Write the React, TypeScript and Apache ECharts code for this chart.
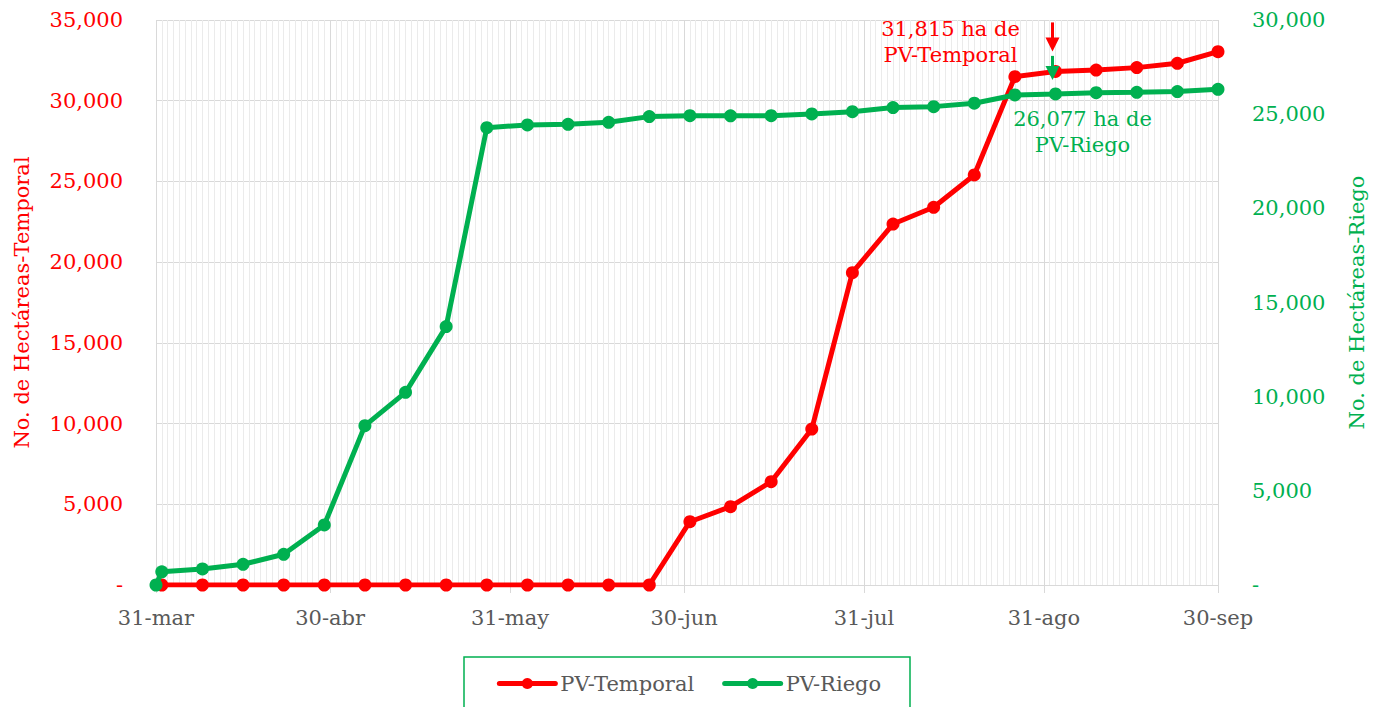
import React, { useEffect, useRef } from "react";
import * as echarts from "echarts";

// Day offsets from 31-mar
const monthEndDays = [0, 30, 61, 91, 122, 153, 183];
const monthEndLabels = ["31-mar", "30-abr", "31-may", "30-jun", "31-jul", "31-ago", "30-sep"];

const temporalDays = [1, 8, 15, 22, 29, 36, 43, 50, 57, 64, 71, 78, 85, 92, 99, 106, 113, 120, 127, 134, 141, 148, 155, 162, 169, 176, 183];
const temporalValues = [0, 0, 0, 0, 0, 0, 0, 0, 0, 0, 0, 0, 0, 3920, 4850, 6400, 9660, 19350, 22360, 23400, 25400, 31490, 31815, 31900, 32050, 32320, 33040];

const riegoDays = [0, 1, 8, 15, 22, 29, 36, 43, 50, 57, 64, 71, 78, 85, 92, 99, 106, 113, 120, 127, 134, 141, 148, 155, 162, 169, 176, 183];
const riegoValues = [0, 700, 850, 1100, 1630, 3190, 8460, 10230, 13720, 24280, 24430, 24460, 24570, 24870, 24920, 24910, 24920, 25010, 25130, 25350, 25400, 25580, 26020, 26077, 26140, 26160, 26200, 26320];

const annotIndexTemporal = 22;
const annotIndexRiego = 23;

const RED = "#ff0000";
const GREEN = "#00b050";
const FONT = "DejaVu Serif";

const fmt = (v: number) => (v === 0 ? "-" : v.toLocaleString("en-US"));

export default function App() {
  const ref = useRef<HTMLDivElement>(null);
  useEffect(() => {
    document.body.style.margin = "0";
    const chart = echarts.init(ref.current!, null, { renderer: "svg" });
    const labelMap: Record<number, string> = {};
    monthEndDays.forEach((d, i) => (labelMap[d] = monthEndLabels[i]));

    chart.setOption({
      animation: false,
      textStyle: { fontFamily: FONT },
      grid: { left: 156, right: 160, top: 20, bottom: 122, containLabel: false },
      legend: {
        left: "center",
        top: 668,
        itemWidth: 56,
        itemHeight: 14,
        itemGap: 28,
        lineStyle: { width: 5, cap: "round" },
        textStyle: { fontFamily: FONT, fontSize: 21, color: "#595959" },
        data: ["PV-Temporal", "PV-Riego"],
      },
      xAxis: [
        {
          type: "value",
          min: 0,
          max: 183,
          interval: 1,
          axisLine: { show: true, lineStyle: { color: "#d9d9d9", width: 1 } },
          axisTick: { show: false },
          axisLabel: { show: false },
          splitLine: { show: true, lineStyle: { color: "#ebebeb", width: 1 } },
        },
        {
          type: "value",
          min: 0,
          max: 183,
          position: "bottom",
          axisLine: { show: false },
          axisTick: {
            show: true,
            customValues: monthEndDays,
            length: 8,
            lineStyle: { color: "#d9d9d9", width: 1 },
          },
          axisLabel: {
            show: true,
            customValues: monthEndDays,
            formatter: (v: number) => labelMap[v] ?? "",
            color: "#595959",
            fontFamily: FONT,
            fontSize: 21,
            margin: 22,
          },
          splitLine: { show: true, lineStyle: { color: "#d9d9d9", width: 1 } },
        },
      ],
      yAxis: [
        {
          type: "value",
          min: 0,
          max: 35000,
          interval: 5000,
          position: "left",
          name: "No. de Hectáreas-Temporal",
          nameLocation: "middle",
          nameRotate: 90,
          nameGap: 124,
          nameTextStyle: { color: RED, fontFamily: FONT, fontSize: 21 },
          axisLine: { show: false },
          axisTick: { show: false },
          axisLabel: { color: RED, fontFamily: FONT, fontSize: 21, margin: 33, formatter: fmt },
          splitLine: { show: true, lineStyle: { color: "#d9d9d9", width: 1 } },
        },
        {
          type: "value",
          min: 0,
          max: 30000,
          interval: 5000,
          position: "right",
          name: "No. de Hectáreas-Riego",
          nameLocation: "middle",
          nameRotate: 90,
          nameGap: 128,
          nameTextStyle: { color: GREEN, fontFamily: FONT, fontSize: 21 },
          axisLine: { show: false },
          axisTick: { show: false },
          axisLabel: { color: GREEN, fontFamily: FONT, fontSize: 21, margin: 34, formatter: fmt },
          splitLine: { show: false },
        },
      ],
      series: [
        {
          name: "PV-Temporal",
          type: "line",
          xAxisIndex: 0,
          yAxisIndex: 0,
          data: temporalDays.map((d, i) => [d, temporalValues[i]]),
          symbol: "circle",
          symbolSize: 13,
          lineStyle: { color: RED, width: 5 },
          itemStyle: { color: RED },
          z: 3,
        },
        {
          name: "PV-Riego",
          type: "line",
          xAxisIndex: 0,
          yAxisIndex: 1,
          data: riegoDays.map((d, i) => [d, riegoValues[i]]),
          symbol: "circle",
          symbolSize: 13,
          lineStyle: { color: GREEN, width: 5 },
          itemStyle: { color: GREEN },
          z: 4,
        },
      ],
    });

    const pT = chart.convertToPixel({ xAxisIndex: 0, yAxisIndex: 0 }, [
      temporalDays[annotIndexTemporal],
      temporalValues[annotIndexTemporal],
    ]) as number[];
    const pG = chart.convertToPixel({ xAxisIndex: 0, yAxisIndex: 1 }, [
      riegoDays[annotIndexRiego],
      riegoValues[annotIndexRiego],
    ]) as number[];
    const ax = pT[0] - 3;

    chart.setOption({
      graphic: [
        {
          type: "rect",
          shape: { x: 464, y: 657, width: 446, height: 70 },
          style: { fill: "none", stroke: GREEN, lineWidth: 1.5 },
          silent: true,
        },
        {
          type: "line",
          shape: { x1: ax, y1: pT[1] - 49, x2: ax, y2: pT[1] - 32 },
          style: { stroke: RED, lineWidth: 3 },
          z: 10,
        },
        {
          type: "polygon",
          shape: { points: [[ax - 7, pT[1] - 34], [ax + 7, pT[1] - 34], [ax, pT[1] - 20]] },
          style: { fill: RED },
          z: 10,
        },
        {
          type: "line",
          shape: { x1: ax, y1: pG[1] - 38, x2: ax, y2: pG[1] - 26 },
          style: { stroke: GREEN, lineWidth: 3 },
          z: 10,
        },
        {
          type: "polygon",
          shape: { points: [[ax - 7, pG[1] - 28], [ax + 7, pG[1] - 28], [ax, pG[1] - 14]] },
          style: { fill: GREEN },
          z: 10,
        },
        {
          type: "text",
          x: pT[0] - 105,
          y: pT[1] - 42,
          style: {
            text: `${temporalValues[annotIndexTemporal].toLocaleString("en-US")} ha de`,
            fill: RED,
            font: `21px "${FONT}"`,
            textAlign: "center",
            textVerticalAlign: "middle",
          },
          z: 10,
        },
        {
          type: "text",
          x: pT[0] - 105,
          y: pT[1] - 16,
          style: {
            text: "PV-Temporal",
            fill: RED,
            font: `21px "${FONT}"`,
            textAlign: "center",
            textVerticalAlign: "middle",
          },
          z: 10,
        },
        {
          type: "text",
          x: pG[0] + 27,
          y: pG[1] + 25,
          style: {
            text: `${riegoValues[annotIndexRiego].toLocaleString("en-US")} ha de`,
            fill: GREEN,
            font: `21px "${FONT}"`,
            textAlign: "center",
            textVerticalAlign: "middle",
          },
          z: 10,
        },
        {
          type: "text",
          x: pG[0] + 27,
          y: pG[1] + 51,
          style: {
            text: "PV-Riego",
            fill: GREEN,
            font: `21px "${FONT}"`,
            textAlign: "center",
            textVerticalAlign: "middle",
          },
          z: 10,
        },
      ],
    });

    return () => chart.dispose();
  }, []);
  return <div ref={ref} style={{ width: 1378, height: 707 }} />;
}
